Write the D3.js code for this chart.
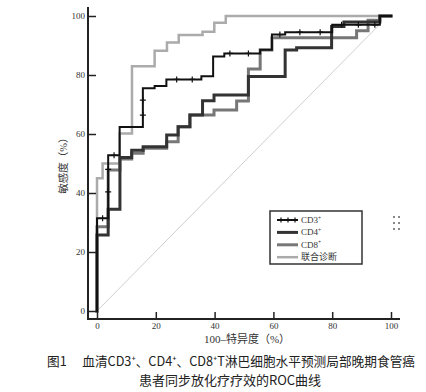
<!DOCTYPE html>
<html><head><meta charset="utf-8">
<script src="https://cdn.jsdelivr.net/npm/d3@7"></script>
<style>body{margin:0;background:#fff}svg{display:block}</style>
</head><body>
<svg id="c" width="426" height="392"></svg>
<script>
// ---- data: ROC corner points [100-specificity, sensitivity] (step after) ----
const cd3 = [[0,0],[0,31.4],[3.8,52.8],[7.7,62.4],[15.6,75.5],[19.6,76.3],[23.6,78.5],[35.5,79.6],[39.5,86.3],[43.3,87.3],[55.5,88.6],[59.5,93.7],[64,94.5],[80,97],[96.2,100],[100,100]];
const cd4 = [[0,0],[0,25.8],[3.8,34.5],[7.8,52],[11.8,54.5],[15.7,55.7],[23.7,59.7],[27.6,62.5],[31.6,66.4],[35.9,71.3],[39.8,73.2],[51.5,79.5],[64,88.5],[67.9,89.2],[79.8,96.4],[84,98],[96.2,100],[100,100]];
const cd8 = [[0,0],[0,28.6],[3.8,47.8],[7.8,51.5],[11.8,53.5],[15.7,55.2],[23.7,57.4],[27.6,62.5],[31.6,66.4],[39.8,68.1],[47.5,71.2],[51.5,82],[55.5,88.5],[59.5,92.6],[88.3,95],[92.2,98.6],[96.2,100],[100,100]];
const combined = [[0,0],[0,45],[1.9,50],[7.7,60.2],[11.9,83],[19.6,88.2],[23.8,91],[27.8,93.6],[35.9,94.7],[39.9,97.7],[43.8,100],[100,100]];
const cd3Marks = [[1.9,31.4],[3.8,40.4],[3.8,48],[5.8,52.8],[15.6,66.4],[15.6,71.5],[27.1,78.5],[32.4,78.5],[45.2,87.3],[51.5,87.3],[62.2,93.7],[69,94.5],[75.9,94.5],[83.2,97],[88.9,97],[94.5,97]];
const diagonal = [[0,0],[96.5,97.5]];
const xTicks = [0,20,40,60,80,100];
const yTicks = [0,20,40,60,80,100];
const seriesNames = ["CD3","CD4","CD8","联合诊断"];
const xLabel = "100–特异度（%）";
const yLabel = "敏感度（%）";
const caption1 = "图1　 血清CD3⁺、CD4⁺、CD8⁺T淋巴细胞水平预测局部晚期食管癌";
const caption2 = "患者同步放化疗疗效的ROC曲线";

const svg = d3.select("#c");
const x = d3.scaleLinear([0,100],[97,391]);
const y = d3.scaleLinear([0,100],[311,16]);
const serif = "'Liberation Serif','Noto Sans CJK SC',serif";

// diagonal
svg.append("path").attr("d", d3.line().x(d=>x(d[0])).y(d=>y(d[1]))(diagonal))
  .attr("stroke","#cfcfcf").attr("stroke-width",1).attr("fill","none");

const step = d3.line().x(d=>x(d[0])).y(d=>y(d[1])).curve(d3.curveStepAfter);
const styles = [
  {data:combined, color:"#ababab", w:2.5},
  {data:cd8, color:"#777", w:3},
  {data:cd4, color:"#333", w:3},
  {data:cd3, color:"#111", w:2}
];
styles.forEach(s=>{
  svg.append("path").attr("d", step(s.data)).attr("fill","none")
    .attr("stroke",s.color).attr("stroke-width",s.w).attr("stroke-linejoin","miter").attr("stroke-linecap","square");
});
// cd3 markers
const cross = (g,px,py,r)=>{
  g.append("path").attr("d",`M${px-r},${py}H${px+r}M${px},${py-r}V${py+r}`)
   .attr("stroke","#111").attr("stroke-width",1.2).attr("fill","none");
};
const mg = svg.append("g");
cd3Marks.forEach(m=>cross(mg,x(m[0]),y(m[1]),3));

// axes lines
svg.append("line").attr("x1",88).attr("x2",88).attr("y1",7).attr("y2",320).attr("stroke","#222").attr("stroke-width",2);
svg.append("line").attr("x1",87).attr("x2",400).attr("y1",319).attr("y2",319).attr("stroke","#222").attr("stroke-width",2);

const ya = svg.append("g").attr("transform","translate(88,0)")
  .call(d3.axisLeft(y).tickValues(yTicks).tickSizeInner(-8).tickSizeOuter(0).tickPadding(3));
const xa = svg.append("g").attr("transform","translate(0,319)")
  .call(d3.axisBottom(x).tickValues(xTicks).tickSizeInner(-7).tickSizeOuter(0).tickPadding(4));
[ya,xa].forEach(a=>{
  a.select(".domain").remove();
  a.selectAll("line").attr("stroke","#222").attr("stroke-width",1.5);
  a.selectAll("text").attr("font-family",serif).attr("font-size",9).attr("fill","#333");
});

// axis titles
svg.append("text").attr("x",247).attr("y",343).attr("text-anchor","middle")
  .attr("font-family",serif).attr("font-size",11).attr("fill","#333").text(xLabel);
svg.append("text").attr("transform","translate(67,163) rotate(-90)").attr("text-anchor","middle")
  .attr("font-family",serif).attr("font-size",10.5).attr("fill","#333").text(yLabel);

// legend
const lg = svg.append("g");
lg.append("rect").attr("x",270).attr("y",211).attr("width",92).attr("height",53)
  .attr("fill","#fff").attr("stroke","#333").attr("stroke-width",1.5);
const legendStyles = [styles[3],styles[2],styles[1],styles[0]];
seriesNames.forEach((n,i)=>{
  const ly = 220 + i*12.4;
  const st = legendStyles[i];
  lg.append("line").attr("x1",277).attr("x2",298).attr("y1",ly).attr("y2",ly)
    .attr("stroke",st.color).attr("stroke-width",st.w);
  if(i===0){ [281,288,295].forEach(px=>cross(lg,px,ly,2.5)); }
  const t = lg.append("text").attr("x",301).attr("y",ly+3).attr("font-family",serif)
    .attr("font-size",9).attr("fill","#333");
  if(i<3){ t.append("tspan").text(n); t.append("tspan").attr("font-size",5.5).attr("dy",-3.5).text("+"); }
  else t.text(n);
});

// decorative dots
const dots = [[393,216],[398,216],[393,222],[398,222],[393,228],[398,228]];
dots.forEach(d=>svg.append("rect").attr("x",d[0]).attr("y",d[1]).attr("width",2).attr("height",2).attr("fill","#888"));

// caption
const cap = "'Noto Sans CJK SC','Noto Sans',sans-serif";
svg.append("text").attr("x",47).attr("y",366).attr("font-family",cap).attr("font-size",13).attr("fill","#222")
  .attr("textLength",368).attr("lengthAdjust","spacingAndGlyphs").text(caption1);
svg.append("text").attr("x",230).attr("y",385).attr("text-anchor","middle").attr("font-family",cap)
  .attr("font-size",13).attr("fill","#222").text(caption2);
</script>
</body></html>
